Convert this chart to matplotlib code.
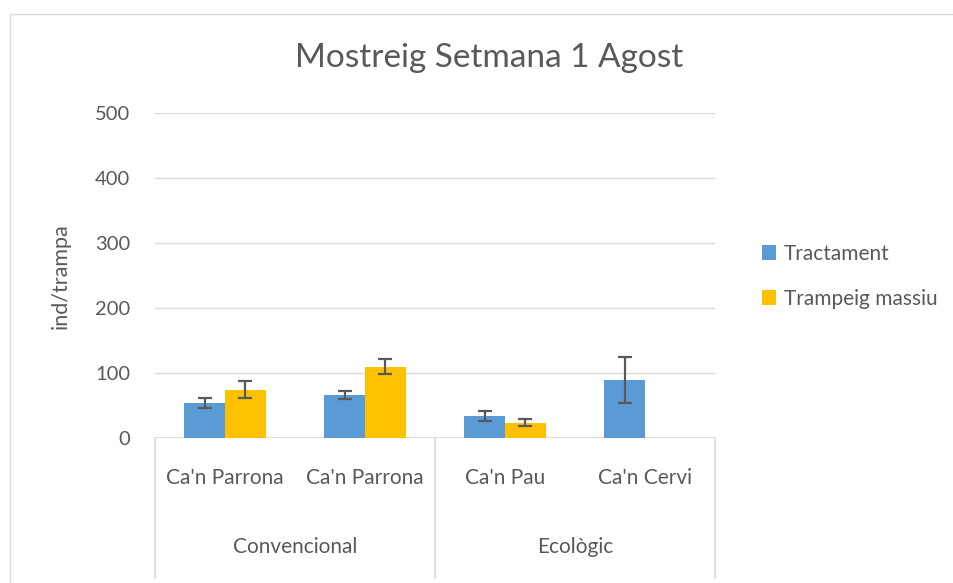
import matplotlib
matplotlib.use("Agg")
import matplotlib.pyplot as plt
from matplotlib.patches import Rectangle
from matplotlib.transforms import blended_transform_factory
import numpy as np

plt.rcParams['font.family'] = ['Lato', 'DejaVu Sans']

title = "Mostreig Setmana 1 Agost"
categories = ["Ca'n Parrona", "Ca'n Parrona", "Ca'n Pau", "Ca'n Cervi"]
groups = ["Convencional", "Ecològic"]
group_sizes = [2, 2]
series_names = ["Tractament", "Trampeig massiu"]
tractament = [54, 66, 34, 89]
tractament_err = [7.5, 6, 8, 35]
trampeig = [74, 110, 23.5, 0]
trampeig_err = [13, 11.5, 5, 0]
yticks = [0, 100, 200, 300, 400, 500]
ylabel = "ind/trampa"

colors = ["#5B9BD5", "#FFC000"]
txt = "#595959"
grid = "#D9D9D9"

W, H = 954, 583
fig = plt.figure(figsize=(W / 100, H / 100), dpi=100)
ax = fig.add_axes([155 / W, 1 - 438 / H, 560 / W, 325 / H])

# chart border
fig.patches.append(Rectangle((10 / W, -0.1), 1.2, 1 - 14 / H + 0.1, transform=fig.transFigure,
                             fill=False, edgecolor=grid, linewidth=1.0))

x = np.arange(len(categories))
bw = 0.29
ax.bar(x - bw / 2, tractament, bw, color=colors[0], label=series_names[0], zorder=3)
ax.bar(x + bw / 2, trampeig, bw, color=colors[1], label=series_names[1], zorder=3)
ekw = dict(fmt="none", ecolor=txt, elinewidth=1.6, capsize=5, capthick=1.6, zorder=4)
ax.errorbar(x - bw / 2, tractament, yerr=tractament_err, **ekw)
mask = np.array(trampeig) > 0
ax.errorbar((x + bw / 2)[mask], np.array(trampeig)[mask], yerr=np.array(trampeig_err)[mask], **ekw)

ax.set_xlim(-0.5, len(categories) - 0.5)
ax.set_ylim(0, 500)
ax.set_yticks(yticks)
ax.set_yticklabels([str(v) for v in yticks], fontsize=14.5, color=txt)
ax.tick_params(axis='y', length=0, pad=18)
ax.set_xticks([])
for s in ax.spines.values():
    s.set_visible(False)
ax.grid(axis='y', color=grid, linewidth=1.0, zorder=0)
ax.axhline(0, color=grid, linewidth=1.2, zorder=2)

fig.text(61 / W, 1 - 276 / H, ylabel, fontsize=15.5, color=txt, rotation=90, ha='center', va='center')
fig.text(489 / W, 1 - 58 / H, title, fontsize=24, color=txt, ha='center', va='center')

# multi-level category axis
tr = blended_transform_factory(ax.transData, ax.transAxes)
yb = (438 - 578) / 325
bounds = [-0.5]
for g in group_sizes:
    bounds.append(bounds[-1] + g)
for b in bounds:
    ax.plot([b, b], [0, yb], transform=tr, color=grid, linewidth=1.2, clip_on=False)
for i, c in enumerate(categories):
    ax.text(i, (438 - 478) / 325, c, transform=tr, ha='center', va='center', fontsize=15, color=txt)
for gi, g in enumerate(groups):
    mid = (bounds[gi] + bounds[gi + 1]) / 2
    ax.text(mid, (438 - 547) / 325, g, transform=tr, ha='center', va='center', fontsize=15, color=txt)

leg = fig.legend(loc='upper left', bbox_to_anchor=(745 / W, 1 - 227 / H), frameon=False,
                 fontsize=15, labelcolor=txt, handlelength=0.7, handleheight=0.7,
                 handletextpad=0.35, labelspacing=1.2, borderpad=0.3)

fig.savefig("out.png", dpi=100)
